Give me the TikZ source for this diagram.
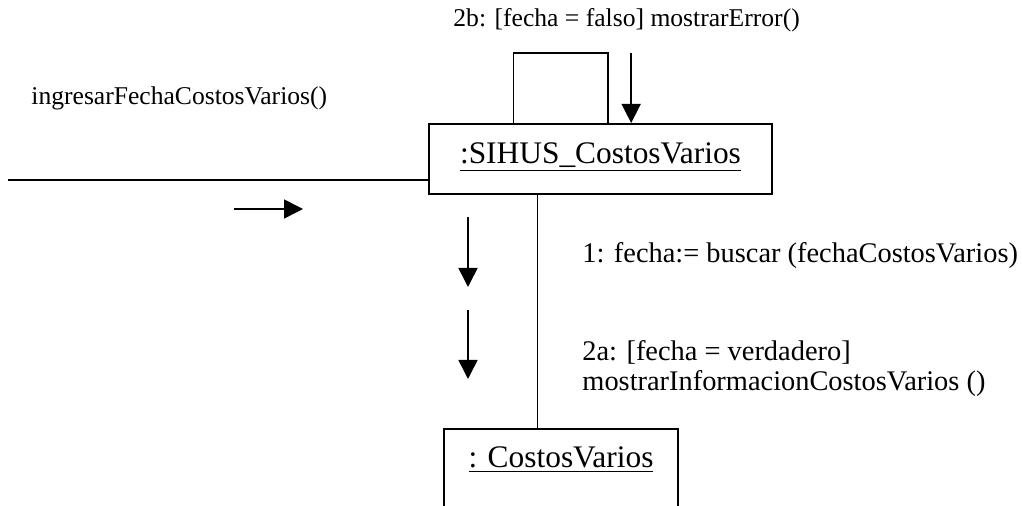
\documentclass[tikz,border=0pt]{standalone}
\usepackage{fontspec}
\setmainfont{Liberation Serif}
\usetikzlibrary{positioning,calc,arrows.meta}

\begin{document}
\begin{tikzpicture}[
  x=0.5pt, y=-0.5pt,
  font=\fontsize{12.8}{14}\selectfont,
  >={Triangle[length=9.5pt, width=9.5pt]},
  obj/.style={draw, line width=0.8pt, inner sep=0pt, anchor=north, font=\fontsize{15.7}{17}\selectfont},
  link/.style={line width=0.8pt},
  msg/.style={->, line width=0.8pt},
  lbl/.style={anchor=base west, inner sep=0pt},
  big/.style={font=\fontsize{14.2}{14}\selectfont},
]
\useasboundingbox (0,0) rectangle (1022,506);
\clip (0,0) rectangle (1022,506);

% ---- objects ----
\node[obj, minimum width=171.5pt, text height=20pt, text depth=15pt] (sihus) at (600.5,123) {\underline{:SIHUS\_CostosVarios}};
\node[obj, minimum width=117pt, text height=19.5pt, text depth=60pt] (costos) at (561,428) {\underline{: CostosVarios}};

% ---- links ----
\coordinate (actor) at (8,180);
\draw[link] (actor) -- (actor -| sihus.west);
\draw[link] ($(sihus.north west)!0.248!(sihus.north east)$) -- ++(0,-70) -| ($(sihus.north west)!0.522!(sihus.north east)$);
\coordinate (down) at ($(sihus.south)+(-63,0)$);
\draw[link] (down) -- (down |- costos.north);

% ---- messages ----
\coordinate (m0) at (234,209);
\draw[msg] (m0) -- ++(69,0);
\coordinate (self) at ($(sihus.north west)!0.589!(sihus.north east)$);
\draw[msg] ($(self)+(0,-70)$) -- (self);
\coordinate (m1) at (468,217);
\draw[msg] (m1) -- ++(0,70);
\coordinate (m2) at (468,310);
\draw[msg] (m2) -- ++(0,69);

% ---- labels ----
\node[lbl] (l2b) at (453,27) {2b: [fecha = falso] mostrarError()};
\node[lbl] (lin) at (31,105) {ingresarFechaCostosVarios()};
\node[lbl, big] (l1) at (582,263) {1: fecha:= buscar (fechaCostosVarios)};
\node[lbl, big] (l2a) at (582,361) {2a: [fecha = verdadero]};
\node[lbl, big, below=15pt of l2a.base west, anchor=base west] (l2a2) {mostrarInformacionCostosVarios ()};

\end{tikzpicture}
\end{document}
